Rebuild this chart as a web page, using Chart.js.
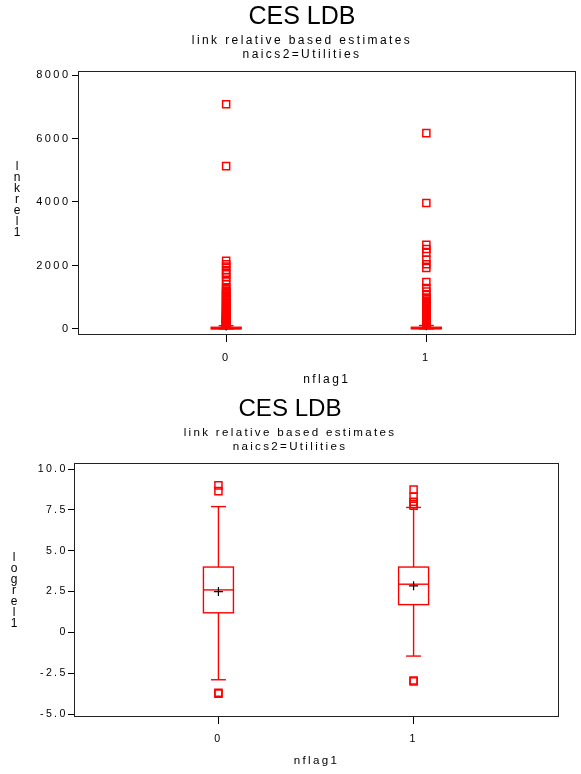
<!DOCTYPE html>
<html>
<head>
<meta charset="utf-8">
<script src="https://cdn.jsdelivr.net/npm/chart.js@4.4.1/dist/chart.umd.min.js"></script>
<style>
  html, body { margin: 0; padding: 0; background: #fff; }
  canvas { display: block; }
</style>
</head>
<body>
<canvas id="rawChart" width="581" height="387"></canvas>
<canvas id="logChart" width="581" height="387"></canvas>
<script>
// ---- shared text ----
const titleText = 'CES LDB';
const subtitleLines = ['link relative based estimates', 'naics2=Utilities'];
const groupLabel = 'nflag1';
const groups = [0, 1];

// ---- lnkrel1 by nflag1 ----
const rawTitle = 'lnkrel1';
const rawTicks = [0, 2000, 4000, 6000, 8000];
const rawQ1 = [3.3, 5.5];
const rawMedian = [13, 19];
const rawQ3 = [55, 55];
const rawLow = [0.05, 0.2];
const rawHigh = [104, 110];
const rawMean = [95, 105];
const rawOutliers0 = [138, 142, 147, 151, 158, 163, 171, 176, 184, 192, 199, 209, 218, 226, 237, 249, 258, 271, 284,
  297, 310, 326, 342, 357, 375, 393, 410, 431, 452, 470, 494, 517, 540, 566, 590, 617, 645, 672, 703, 733, 762,
  796, 828, 861, 897, 934, 968, 1006, 1045, 1082, 1124, 1163, 1207, 1248, 1310, 1420, 1520, 1630, 1720, 1770,
  1860, 1970, 2040, 2150, 5130, 7080];
const rawOutliers1 = [132, 137, 143, 149, 156, 163, 170, 178, 187, 195, 205, 215, 226, 238, 250, 262, 276, 291, 306,
  322, 339, 356, 375, 394, 414, 436, 458, 482, 506, 532, 559, 587, 616, 646, 678, 712, 746, 782, 820, 858, 900,
  945, 990, 1090, 1180, 1290, 1480, 1920, 2040, 2180, 2400, 2520, 2650, 3970, 6170];

// ---- logrel1 by nflag1 ----
const logTitle = 'logrel1';
const logTicks = [-5, -2.5, 0, 2.5, 5, 7.5, 10];
const logQ1 = [1.2, 1.7];
const logMedian = [2.6, 2.95];
const logQ3 = [4.0, 4.0];
const logLow = [-2.9, -1.45];
const logHigh = [7.7, 7.65];
const logMean = [2.5, 2.85];
const logOutliers0 = [-3.75, -3.7, 8.65, 9.0];
const logOutliers1 = [-3.0, -2.95, 7.75, 7.85, 8.0, 8.3, 8.75];

const RED = '#ff0000';
const FONT = "'Liberation Sans', Arial, sans-serif";

Chart.defaults.color = '#000';
Chart.defaults.font.family = FONT;

// spaced lettering for the library-drawn labels
const spacingPlugin = {
  id: 'letterSpacing',
  beforeLayout(chart, args, opts) { chart.ctx.letterSpacing = opts.value; },
  beforeDraw(chart, args, opts) { chart.ctx.letterSpacing = opts.value; }
};

// main heading, set tight above the subtitle block
const headingPlugin = {
  id: 'heading',
  afterDraw(chart, args, o) {
    const { ctx } = chart;
    const pad = chart.options.layout.padding;
    const cx = (pad.left + chart.width - pad.right) / 2;
    ctx.save();
    ctx.letterSpacing = '0px';
    ctx.font = `${o.size}px ${FONT}`;
    ctx.fillStyle = '#000';
    ctx.textAlign = 'center';
    ctx.textBaseline = 'middle';
    ctx.fillText(o.text, cx, o.y);
    ctx.restore();
  }
};

// box, median and whiskers from the summary arrays
const boxPlugin = {
  id: 'boxWhisker',
  beforeDatasetsDraw(chart, args, o) {
    const { ctx, scales: { x, y } } = chart;
    ctx.save();
    ctx.strokeStyle = o.color;
    ctx.lineWidth = o.lineWidth;
    const seg = (x1, y1, x2, y2) => { ctx.beginPath(); ctx.moveTo(x1, y1); ctx.lineTo(x2, y2); ctx.stroke(); };
    o.groups.forEach((g, i) => {
      const cx = x.getPixelForValue(g);
      const pq1 = y.getPixelForValue(o.q1[i]);
      const pmed = y.getPixelForValue(o.median[i]);
      const pq3 = y.getPixelForValue(o.q3[i]);
      const plo = y.getPixelForValue(o.low[i]);
      const phi = y.getPixelForValue(o.high[i]);
      const hb = o.boxWidth / 2, hc = o.capWidth / 2;
      seg(cx, pq3, cx, phi);
      seg(cx, pq1, cx, plo);
      seg(cx - hc, phi, cx + hc, phi);
      seg(cx - hc, plo, cx + hc, plo);
      ctx.strokeRect(cx - hb, pq3, o.boxWidth, pq1 - pq3);
      seg(cx - hb, pmed, cx + hb, pmed);
    });
    ctx.restore();
  }
};

// closed frame round the plot area
const framePlugin = {
  id: 'plotFrame',
  afterDraw(chart) {
    const { ctx, chartArea: a } = chart;
    ctx.save();
    ctx.strokeStyle = '#222';
    ctx.lineWidth = 1;
    ctx.strokeRect(Math.round(a.left) - 0.5, Math.round(a.top) + 0.5,
      Math.round(a.right - a.left) + 1, Math.round(a.bottom - a.top) - 1);
    ctx.restore();
  }
};

// vertical axis title written one character per line
const stackedTitlePlugin = {
  id: 'stackedTitle',
  afterDraw(chart, args, o) {
    const { ctx } = chart;
    ctx.save();
    ctx.letterSpacing = '0px';
    ctx.font = `${o.size}px ${FONT}`;
    ctx.fillStyle = '#000';
    ctx.textAlign = 'center';
    ctx.textBaseline = 'middle';
    [...o.text].forEach((ch, i) => ctx.fillText(ch, o.x, o.top + i * o.step));
    ctx.restore();
  }
};

function buildChart(id, s) {
  const outlierPoints = [];
  groups.forEach((g, i) => s.outliers[i].forEach(v => outlierPoints.push({ x: g, y: v })));
  const meanPoints = groups.map((g, i) => ({ x: g, y: s.mean[i] }));
  const f = s.fontScale;

  return new Chart(document.getElementById(id), {
    type: 'scatter',
    data: {
      datasets: [
        { label: 'outliers', data: outlierPoints, pointStyle: 'rect', pointRadius: 5,
          pointBorderWidth: 1.5, pointBorderColor: RED, pointBackgroundColor: 'rgba(0,0,0,0)' },
        { label: 'mean', data: meanPoints, pointStyle: 'cross', pointRadius: 4.5,
          pointBorderWidth: 1.2, pointBorderColor: '#000' }
      ]
    },
    options: {
      responsive: false,
      animation: false,
      events: [],
      layout: { padding: s.padding },
      plugins: {
        legend: { display: false },
        tooltip: { enabled: false },
        title: { display: false },
        letterSpacing: { value: (2.4 * f).toFixed(2) + 'px' },
        heading: { text: titleText, size: 25 * f, y: s.headingY },
        subtitle: {
          display: true, text: subtitleLines, color: '#000',
          font: { family: FONT, size: 12 * f, weight: 'normal', lineHeight: 14 / (12 * f) },
          padding: { top: s.subtitleTop, bottom: 9 }
        },
        boxWhisker: {
          groups, q1: s.q1, median: s.median, q3: s.q3, low: s.low, high: s.high,
          boxWidth: 30, capWidth: 15, color: RED, lineWidth: 1.4
        },
        stackedTitle: { text: s.yTitle, x: s.yTitleX, top: s.yTitleTop, step: 11, size: 12 }
      },
      scales: {
        x: {
          type: 'linear', bounds: 'data', min: -0.735, max: 1.74,
          afterBuildTicks: sc => { sc.ticks = groups.map(v => ({ value: v })); },
          afterFit: sc => { sc.height = s.xAxisHeight; },
          ticks: { font: { size: 11 * f }, padding: s.xTickPad, callback: v => String(v) },
          grid: { drawOnChartArea: false, tickLength: 7, color: '#000' },
          border: { display: false },
          title: { display: true, text: groupLabel, font: { size: 12 * f }, padding: { top: 0, bottom: s.xTitlePad } }
        },
        y: {
          type: 'linear', bounds: 'data', min: s.yMin, max: s.yMax,
          afterBuildTicks: sc => { sc.ticks = s.ticks.map(v => ({ value: v })); },
          afterFit: sc => { sc.width = 53; },
          ticks: { font: { size: 11 * f }, padding: s.yTickPad, callback: s.tickLabel },
          grid: { drawOnChartArea: false, tickLength: 7, color: '#000' },
          border: { display: false }
        }
      }
    },
    plugins: [spacingPlugin, boxPlugin, framePlugin, stackedTitlePlugin, headingPlugin]
  });
}

buildChart('rawChart', {
  q1: rawQ1, median: rawMedian, q3: rawQ3, low: rawLow, high: rawHigh, mean: rawMean,
  outliers: [rawOutliers0, rawOutliers1],
  ticks: rawTicks, yMin: -189, yMax: 8126, tickLabel: v => String(v),
  padding: { left: 26, right: 3, top: 0, bottom: 0 }, fontScale: 1,
  headingY: 17, subtitleTop: 34, xAxisHeight: 52, xTickPad: 9.4, xTitlePad: 0, yTickPad: 1.6,
  yTitle: rawTitle, yTitleX: 17, yTitleTop: 167
});

buildChart('logChart', {
  q1: logQ1, median: logMedian, q3: logQ3, low: logLow, high: logHigh, mean: logMean,
  outliers: [logOutliers0, logOutliers1],
  ticks: logTicks, yMin: -5.18, yMax: 10.37, tickLabel: v => (v === 0 ? '0' : v.toFixed(1)),
  padding: { left: 22, right: 23, top: 0, bottom: 0 }, fontScale: 0.965,
  headingY: 22, subtitleTop: 39, xAxisHeight: 57, xTickPad: 8.6, xTitlePad: 5.8, yTickPad: 0.4,
  yTitle: logTitle, yTitleX: 14, yTitleTop: 171
});
</script>
</body>
</html>
